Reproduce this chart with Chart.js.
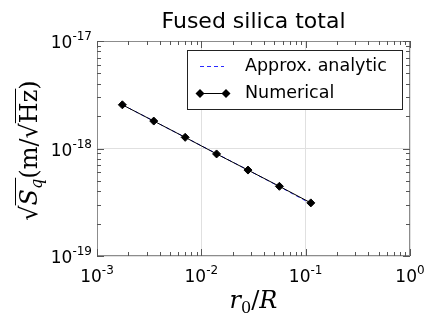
<!DOCTYPE html>
<html>
<head>
<meta charset="utf-8">
<script src="https://cdn.jsdelivr.net/npm/chart.js@4.4.1/dist/chart.umd.min.js"></script>
<style>
  html, body { margin: 0; padding: 0; background: #fff; }
  #wrap { width: 436px; height: 327px; }
</style>
</head>
<body>
<div id="wrap"><canvas id="chart" width="436" height="327"></canvas></div>
<script>
// ---- Données ----
const radiusRatio = [0.00175, 0.0035, 0.007, 0.014, 0.028, 0.056, 0.112];
const numerical   = [2.55e-18, 1.80e-18, 1.27e-18, 8.9e-19, 6.3e-19, 4.45e-19, 3.12e-19];
const analytic    = [2.55e-18, 1.80e-18, 1.27e-18, 8.95e-19, 6.3e-19, 4.42e-19, 3.07e-19];

const xMajor = [1e-3, 1e-2, 1e-1, 1];
const xExp   = ["-3", "-2", "-1", "0"];
const yMajor = [1e-19, 1e-18, 1e-17];
const yExp   = ["-19", "-18", "-17"];

const titleText = "Fused silica total";
const legendLabels = ["Approx. analytic", "Numerical"];

const AXIS_GREY = "#8c8c8c";

function minorsOf(majors) {
    const out = [];
    for (let i = 0; i < majors.length - 1; i++) {
        for (let k = 2; k <= 9; k++) out.push(majors[i] * k);
    }
    return out;
}

// ---- Dessin des éléments "matplotlib" : ticks internes, labels, légende ----
const decorations = {
    id: "decorations",
    afterDraw(chart) {
        const ctx = chart.ctx;
        const a = chart.chartArea;
        const xs = chart.scales.x, ys = chart.scales.y;
        ctx.save();

        // cadre
        ctx.strokeStyle = AXIS_GREY;
        ctx.lineWidth = 1;
        ctx.strokeRect(a.left + 0.5, a.top + 0.5, a.right - a.left - 1, a.bottom - a.top - 1);

        // ticks vers l'intérieur sur les quatre côtés
        ctx.strokeStyle = "#555";
        const tick = (x1, y1, x2, y2) => {
            ctx.beginPath(); ctx.moveTo(x1, y1); ctx.lineTo(x2, y2); ctx.stroke();
        };
        xMajor.concat(minorsOf(xMajor)).forEach((v, i) => {
            const len = i < xMajor.length ? 7 : 4;
            const px = Math.round(xs.getPixelForValue(v)) + 0.5;
            tick(px, a.bottom, px, a.bottom - len);
            tick(px, a.top, px, a.top + len);
        });
        yMajor.concat(minorsOf(yMajor)).forEach((v, i) => {
            const len = i < yMajor.length ? 7 : 4;
            const py = Math.round(ys.getPixelForValue(v)) + 0.5;
            tick(a.left, py, a.left + len, py);
            tick(a.right, py, a.right - len, py);
        });

        // labels des ticks : 10^n
        ctx.fillStyle = "#000";
        ctx.textBaseline = "alphabetic";
        const base = "17px 'DejaVu Sans'";
        const sup = "12px 'DejaVu Sans'";
        const power = (exp, x, y, align) => {
            ctx.font = base;
            const w1 = ctx.measureText("10").width;
            ctx.font = sup;
            const w2 = ctx.measureText(exp).width;
            let start = align === "center" ? x - (w1 + w2) / 2 : x - (w1 + w2);
            ctx.font = base;
            ctx.textAlign = "left";
            ctx.fillText("10", start, y);
            ctx.font = sup;
            ctx.fillText(exp, start + w1, y - 8);
        };
        xMajor.forEach((v, i) => power(xExp[i], xs.getPixelForValue(v), a.bottom + 26, "center"));
        yMajor.forEach((v, i) => power(yExp[i], a.left - 5, ys.getPixelForValue(v) + 7, "right"));

        // titre
        ctx.font = "22px 'DejaVu Sans'";
        ctx.textAlign = "center";
        ctx.fillText(titleText, (a.left + a.right) / 2, 28);

        // titre axe x : r0/R
        const xc = (a.left + a.right) / 2, yb = 308;
        ctx.textAlign = "left";
        const it = "italic 24px 'DejaVu Serif'";
        const rm = "24px 'DejaVu Serif'";
        const sub = "16px 'DejaVu Serif'";
        const parts = [[it, "r", 0], [sub, "0", 5], [rm, "/", 0], [it, "R", 0]];
        let tw = 0;
        parts.forEach(p => { ctx.font = p[0]; tw += ctx.measureText(p[1]).width; });
        let cx = xc - tw / 2;
        parts.forEach(p => { ctx.font = p[0]; ctx.fillText(p[1], cx, yb + p[2]); cx += ctx.measureText(p[1]).width; });

        // titre axe y : sqrt(S_q) (m/sqrt(Hz)), vertical
        ctx.save();
        ctx.translate(37, (a.top + a.bottom) / 2 + 2);
        ctx.rotate(-Math.PI / 2);
        const yparts = [
            [rm, "\u221A", 0, false], [it, "S", 0, true], ["italic 16px 'DejaVu Serif'", "q", 5, true],
            [rm, "(m/", 0, false], [rm, "\u221A", 0, false], [rm, "Hz", 0, true], [rm, ")", 0, false]
        ];
        let yw = 0;
        yparts.forEach(p => { ctx.font = p[0]; yw += ctx.measureText(p[1]).width; });
        let px = -yw / 2;
        ctx.strokeStyle = "#000";
        ctx.lineWidth = 1;
        yparts.forEach(p => {
            ctx.font = p[0];
            const w = ctx.measureText(p[1]).width;
            ctx.fillText(p[1], px, p[2]);
            if (p[3]) tick(px, -21.5, px + w + 1, -21.5);
            px += w;
        });
        ctx.restore();

        // légende dans la zone du graphe
        const lx = 187, ly = 50, lw = 215, lh = 59;
        ctx.fillStyle = "#fff";
        ctx.fillRect(lx, ly, lw, lh);
        ctx.strokeStyle = "#222";
        ctx.strokeRect(lx + 0.5, ly + 0.5, lw, lh);
        ctx.font = "17.5px 'DejaVu Sans'";
        ctx.fillStyle = "#000";
        ctx.textBaseline = "middle";
        ctx.textAlign = "left";
        // ligne analytique
        ctx.strokeStyle = "#2a2aff";
        ctx.setLineDash([4, 3]);
        tick(200, 66.5, 224, 66.5);
        ctx.setLineDash([]);
        ctx.fillText(legendLabels[0], 245, 66);
        // ligne numérique
        ctx.strokeStyle = "#000";
        tick(200, 93.5, 226, 93.5);
        [200, 226].forEach(mx => {
            ctx.beginPath();
            ctx.moveTo(mx, 89); ctx.lineTo(mx + 4.5, 93.5); ctx.lineTo(mx, 98); ctx.lineTo(mx - 4.5, 93.5);
            ctx.closePath(); ctx.fill();
        });
        ctx.fillText(legendLabels[1], 245, 93);

        ctx.restore();
    }
};

const logAxis = (min, max, majors) => ({
    type: "logarithmic",
    min: min,
    max: max,
    afterBuildTicks: scale => { scale.ticks = majors.map(v => ({ value: v })); },
    ticks: { display: false },
    grid: { color: "#e0e0e0", lineWidth: 1, drawTicks: false },
    border: { display: false }
});

new Chart(document.getElementById("chart"), {
    type: "line",
    data: {
        datasets: [
            {
                label: legendLabels[0],
                data: radiusRatio.map((x, i) => ({ x: x, y: analytic[i] })),
                borderColor: "#2a2aff",
                borderWidth: 1,
                borderDash: [4, 3],
                pointRadius: 0,
                fill: false,
                order: 1
            },
            {
                label: legendLabels[1],
                data: radiusRatio.map((x, i) => ({ x: x, y: numerical[i] })),
                borderColor: "#000",
                backgroundColor: "#000",
                borderWidth: 1,
                pointStyle: "rectRot",
                pointRadius: 4,
                fill: false,
                order: 0
            }
        ]
    },
    options: {
        responsive: false,
        animation: false,
        devicePixelRatio: 1,
        layout: { padding: { left: 97, right: 26, top: 41, bottom: 71 } },
        plugins: { legend: { display: false }, tooltip: { enabled: false }, title: { display: false } },
        scales: {
            x: logAxis(1e-3, 1, xMajor),
            y: logAxis(1e-19, 1e-17, yMajor)
        }
    },
    plugins: [decorations]
});
</script>
</body>
</html>
